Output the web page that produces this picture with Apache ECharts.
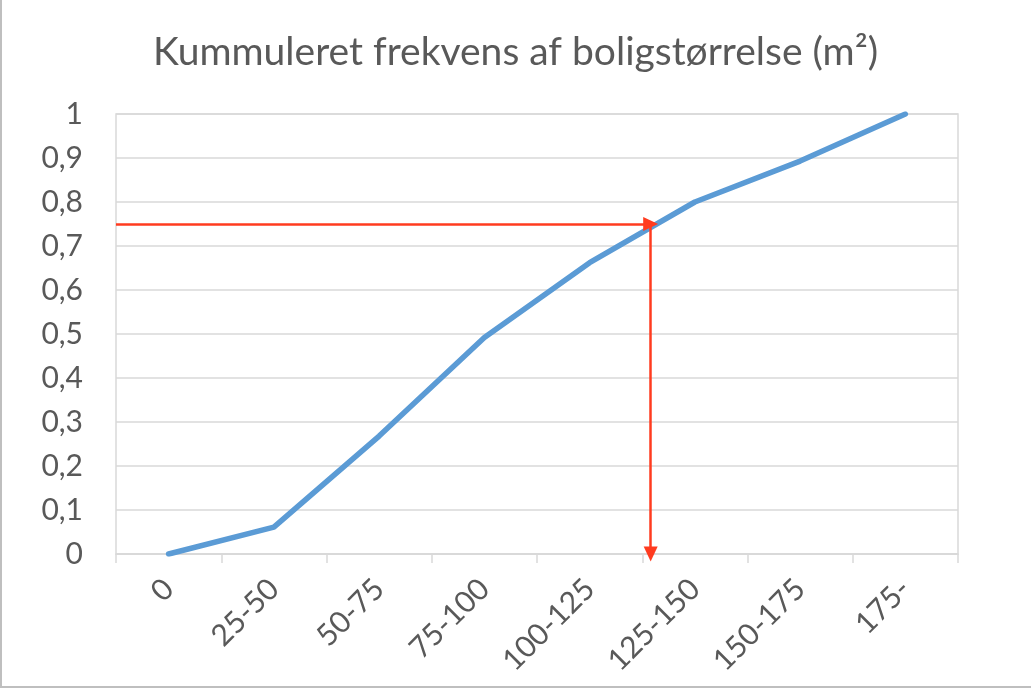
<!DOCTYPE html>
<html>
<head>
<meta charset="utf-8">
<script src="https://cdn.jsdelivr.net/npm/echarts@6/dist/echarts.min.js"></script>
<style>
html,body{margin:0;padding:0;background:#fff;}
#chart{width:1031px;height:688px;}
</style>
</head>
<body>
<div id="chart"></div>
<script>
const titleText = 'Kummuleret frekvens af boligstørrelse (m²)';
const categories = ['0', '25-50', '50-75', '75-100', '100-125', '125-150', '150-175', '175-'];
const cumulative = [0, 0.061, 0.268, 0.492, 0.662, 0.80, 0.893, 1.0];
const yTicks = { min: 0, max: 1, step: 0.1 };
const readLevel = 0.75;
const readPosition = 4.58;

const textColor = '#595959';
const gridColor = '#d9d9d9';
const font = 'Lato';

const chart = echarts.init(document.getElementById('chart'), null, { renderer: 'canvas' });
chart.setOption({
  backgroundColor: '#ffffff',
  animation: false,
  title: {
    text: titleText,
    left: 'center',
    top: 28,
    textStyle: { fontFamily: font, fontSize: 39, fontWeight: 'normal', color: textColor }
  },
  grid: { left: 116, right: 73, top: 114, bottom: 134, show: true, borderColor: gridColor, borderWidth: 1.5 },
  xAxis: [{
    type: 'category',
    data: categories,
    boundaryGap: true,
    axisLine: { show: true, lineStyle: { color: gridColor, width: 1.5 } },
    axisTick: { show: true, length: 9, alignWithLabel: false, lineStyle: { color: gridColor, width: 1.5 } },
    axisLabel: { interval: 0, rotate: 45, margin: 30, color: textColor, fontFamily: font, fontSize: 30 },
    splitLine: { show: false }
  }, {
    type: 'value',
    min: -0.5,
    max: categories.length - 0.5,
    show: false
  }],
  yAxis: {
    type: 'value',
    min: yTicks.min,
    max: yTicks.max,
    interval: yTicks.step,
    axisLine: { show: false },
    axisTick: { show: false },
    axisLabel: {
      margin: 33,
      color: textColor,
      fontFamily: font,
      fontSize: 30,
      formatter: v => String(+v.toFixed(1)).replace('.', ',')
    },
    splitLine: { show: true, lineStyle: { color: gridColor, width: 1.5 } }
  },
  series: [{
    type: 'line',
    data: cumulative,
    symbol: 'none',
    smooth: false,
    lineStyle: { color: '#5b9bd5', width: 5.5, cap: 'round', join: 'round' },
    z: 3
  }, {
    type: 'line',
    xAxisIndex: 1,
    data: [],
    z: 4,
    markLine: {
      silent: true,
      symbol: ['none', 'triangle'],
      symbolSize: [14, 15],
      label: { show: false },
      lineStyle: { color: '#ff3b1f', width: 2.5, type: 'solid' },
      data: [
        [{ coord: [-0.5, readLevel] }, { coord: [readPosition, readLevel] }],
        [{ coord: [readPosition, readLevel] }, { coord: [readPosition, 0] }]
      ]
    }
  }],
  graphic: [
    { type: 'line', shape: { x1: 1, y1: 0, x2: 1, y2: 687 }, style: { stroke: '#bfbfbf', lineWidth: 2 } },
    { type: 'line', shape: { x1: 0, y1: 687, x2: 1031, y2: 687 }, style: { stroke: '#bfbfbf', lineWidth: 2 } }
  ]
});
</script>
</body>
</html>
